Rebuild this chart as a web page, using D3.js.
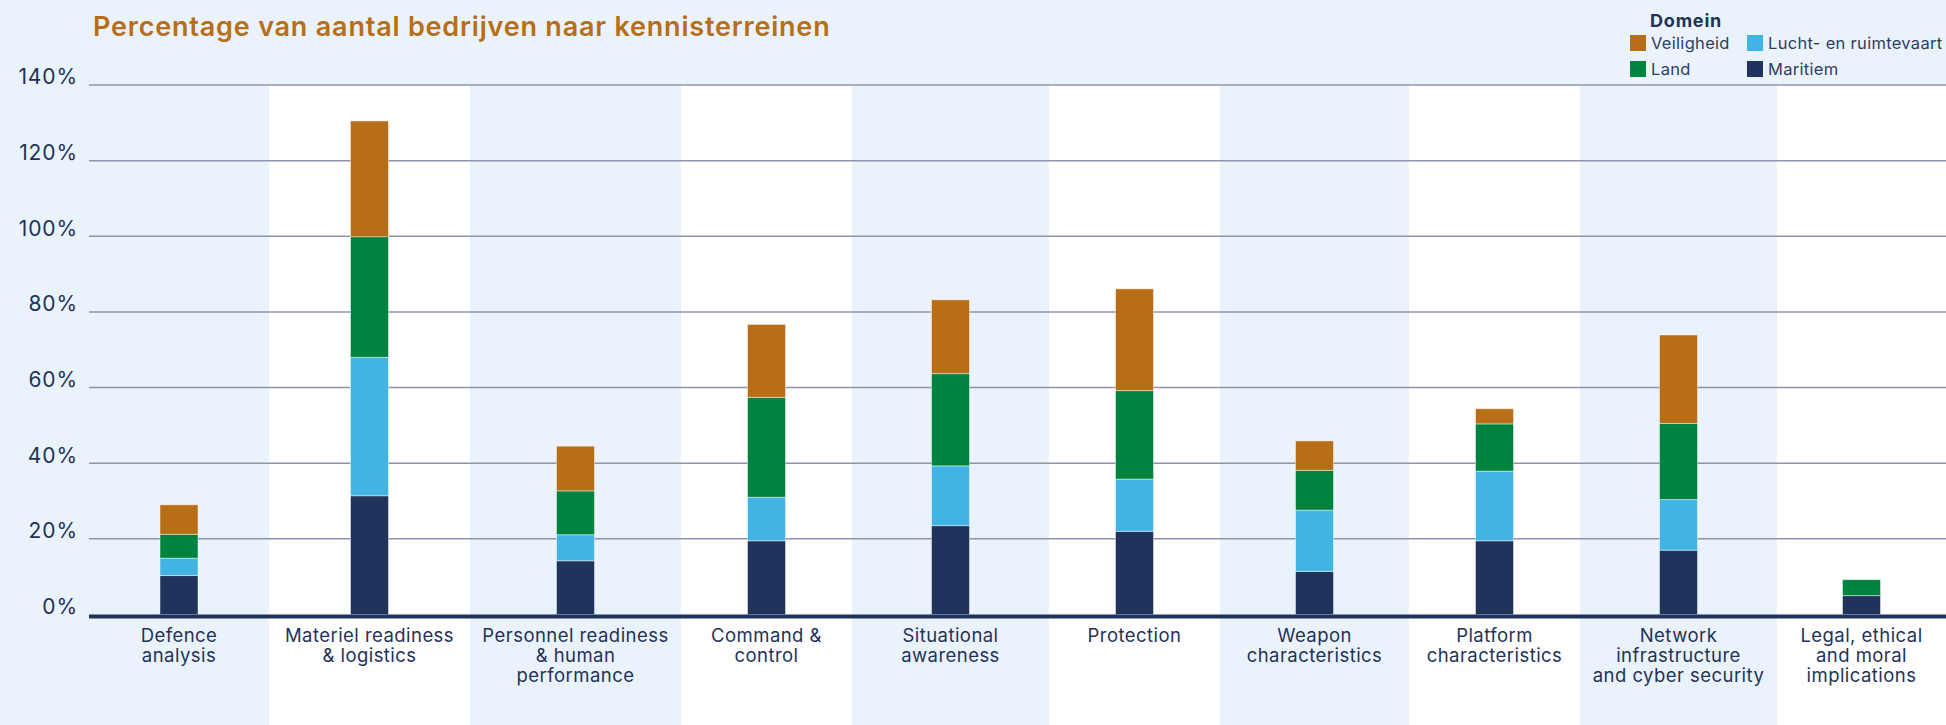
<!DOCTYPE html>
<html lang="nl">
<head>
<meta charset="utf-8">
<title>Percentage van aantal bedrijven naar kennisterreinen</title>
<script src="https://cdn.jsdelivr.net/npm/d3@7/dist/d3.min.js"></script>
<style>
  html, body { margin: 0; padding: 0; background: #EAF3FB; }
  svg { display: block; }
  text { font-family: "Inter", "Open Sans", "Noto Sans", sans-serif; }
</style>
</head>
<body>
<svg id="chart" width="1946" height="725"></svg>
<script>
// Knowledge areas (x categories) and their wrapped tick labels
const categories = [
  "Defence analysis",
  "Materiel readiness & logistics",
  "Personnel readiness & human performance",
  "Command & control",
  "Situational awareness",
  "Protection",
  "Weapon characteristics",
  "Platform characteristics",
  "Network infrastructure and cyber security",
  "Legal, ethical and moral implications"
];
const categoryLabelLines = [
  ["Defence", "analysis"],
  ["Materiel readiness", "& logistics"],
  ["Personnel readiness", "& human", "performance"],
  ["Command &", "control"],
  ["Situational", "awareness"],
  ["Protection"],
  ["Weapon", "characteristics"],
  ["Platform", "characteristics"],
  ["Network", "infrastructure", "and cyber security"],
  ["Legal, ethical", "and moral", "implications"]
];

// Domains, stacked bottom to top
const domains = ["Maritiem", "Lucht- en ruimtevaart", "Land", "Veiligheid"];

// Percentage of companies per domain, one value per knowledge area
const maritiem    = [10.3, 31.4, 14.2, 19.5, 23.5, 22.0, 11.4, 19.5, 17.0, 5.0];
const luchtRuimte = [ 4.6, 36.6,  6.9, 11.5, 15.8, 13.8, 16.2, 18.4, 13.4, 0.0];
const land        = [ 6.3, 31.9, 11.6, 26.4, 24.4, 23.4, 10.5, 12.5, 20.1, 4.2];
const veiligheid  = [ 7.8, 30.6, 11.8, 19.3, 19.5, 26.9,  7.8,  4.0, 23.4, 0.0];

// Y axis ticks
const yTicks = [0, 20, 40, 60, 80, 100, 120, 140];

// Legend layout (two columns, two rows)
const legendOrder = ["Veiligheid", "Lucht- en ruimtevaart", "Land", "Maritiem"];

// ---- layout & styling ----
const W = 1946, H = 725;
const plot = { left: 89, right: 1946, top: 85, bottom: 614.5 };
// relative column widths: wider columns for the longer label texts
const columnWeights = [180, 201, 211, 171, 197, 171, 189, 171, 197, 169];
const barWidth = 38;

const colors = {
  "Maritiem": "#1F335C",
  "Lucht- en ruimtevaart": "#42B4E4",
  "Land": "#00833E",
  "Veiligheid": "#B86E17"
};
const navy = "#1F3259";

const svg = d3.select("#chart");

// Table built from the series arrays
const seriesByDomain = {
  "Maritiem": maritiem,
  "Lucht- en ruimtevaart": luchtRuimte,
  "Land": land,
  "Veiligheid": veiligheid
};
const table = categories.map((c, i) => {
  const row = { category: c };
  domains.forEach(d => { row[d] = seriesByDomain[d][i]; });
  return row;
});

// Scales
const edges = [0, ...d3.cumsum(columnWeights)];
const colScale = d3.scaleLinear()
  .domain([0, edges[edges.length - 1]])
  .range([plot.left, plot.right]);
const bandStart = d3.scaleOrdinal().domain(categories).range(edges.slice(0, -1).map(colScale));
const bandEnd = d3.scaleOrdinal().domain(categories).range(edges.slice(1).map(colScale));
const center = c => (bandStart(c) + bandEnd(c)) / 2;

const y = d3.scaleLinear().domain([0, 140]).range([plot.bottom, plot.top]);

// Alternating column backgrounds
svg.append("g")
  .selectAll("rect")
  .data(categories)
  .join("rect")
  .attr("x", d => bandStart(d))
  .attr("width", d => bandEnd(d) - bandStart(d))
  .attr("y", plot.top)
  .attr("height", H - plot.top)
  .attr("fill", (d, i) => i % 2 === 1 ? "#FFFFFF" : "#EAF3FB");

// Gridlines
svg.append("g")
  .selectAll("line")
  .data(yTicks.filter(t => t > 0))
  .join("line")
  .attr("x1", plot.left)
  .attr("x2", plot.right)
  .attr("y1", d => y(d))
  .attr("y2", d => y(d))
  .attr("stroke", "#8E93AD")
  .attr("stroke-width", 1.5);

// Y axis labels
const yAxis = d3.axisLeft(y)
  .tickValues(yTicks)
  .tickFormat(d => d + "%")
  .tickSize(0)
  .tickPadding(0);
const yAxisG = svg.append("g")
  .attr("transform", `translate(${plot.left - 11},0)`)
  .call(yAxis);
yAxisG.select(".domain").remove();
yAxisG.selectAll("text")
  .attr("fill", navy)
  .attr("font-size", 21)
  .attr("letter-spacing", 0.9)
  .attr("dy", "-0.05em")
  .style("font-family", "Inter, 'Open Sans', sans-serif");

// Stacked bars
const stack = d3.stack().keys(domains);
const stacked = stack(table);

svg.append("g")
  .selectAll("g")
  .data(stacked)
  .join("g")
  .attr("fill", d => colors[d.key])
  .selectAll("rect")
  .data(d => d.filter(s => s[1] - s[0] > 0))
  .join("rect")
  .attr("x", d => center(d.data.category) - barWidth / 2)
  .attr("width", barWidth)
  .attr("y", d => y(d[1]))
  .attr("height", d => y(d[0]) - y(d[1]))
  .attr("stroke", "rgba(255,255,255,0.45)")
  .attr("stroke-width", 1);

// Baseline
svg.append("line")
  .attr("x1", plot.left)
  .attr("x2", plot.right)
  .attr("y1", y(0) + 2)
  .attr("y2", y(0) + 2)
  .attr("stroke", "#1F335C")
  .attr("stroke-width", 4);

// Category labels
const labelG = svg.append("g");
categories.forEach((c, i) => {
  const t = labelG.append("text")
    .attr("x", center(c))
    .attr("y", 642)
    .attr("text-anchor", "middle")
    .attr("fill", navy)
    .attr("font-size", 18.5)
    .attr("letter-spacing", 0.45);
  categoryLabelLines[i].forEach((line, j) => {
    t.append("tspan")
      .attr("x", center(c))
      .attr("y", 642 + j * 20)
      .text(line);
  });
});

// Title
svg.append("text")
  .attr("x", 93)
  .attr("y", 36)
  .attr("fill", "#B86E17")
  .attr("font-size", 27)
  .attr("font-weight", 600)
  .attr("letter-spacing", 0.8)
  .text("Percentage van aantal bedrijven naar kennisterreinen");

// Legend
const legend = svg.append("g").attr("transform", "translate(1630,0)");
legend.append("text")
  .attr("x", 20)
  .attr("y", 27)
  .attr("fill", navy)
  .attr("font-size", 18)
  .attr("font-weight", 700)
  .attr("letter-spacing", 0.8)
  .text("Domein");
const legendItems = legend.selectAll("g.item")
  .data(legendOrder)
  .join("g")
  .attr("class", "item")
  .attr("transform", (d, i) => `translate(${(i % 2) * 117},${35 + Math.floor(i / 2) * 26})`);
legendItems.append("rect")
  .attr("width", 16)
  .attr("height", 16)
  .attr("fill", d => colors[d]);
legendItems.append("text")
  .attr("x", 21)
  .attr("y", 13.5)
  .attr("fill", "#2E3D63")
  .attr("font-size", 16.5)
  .attr("letter-spacing", 0.3)
  .text(d => d);
</script>
</body>
</html>
